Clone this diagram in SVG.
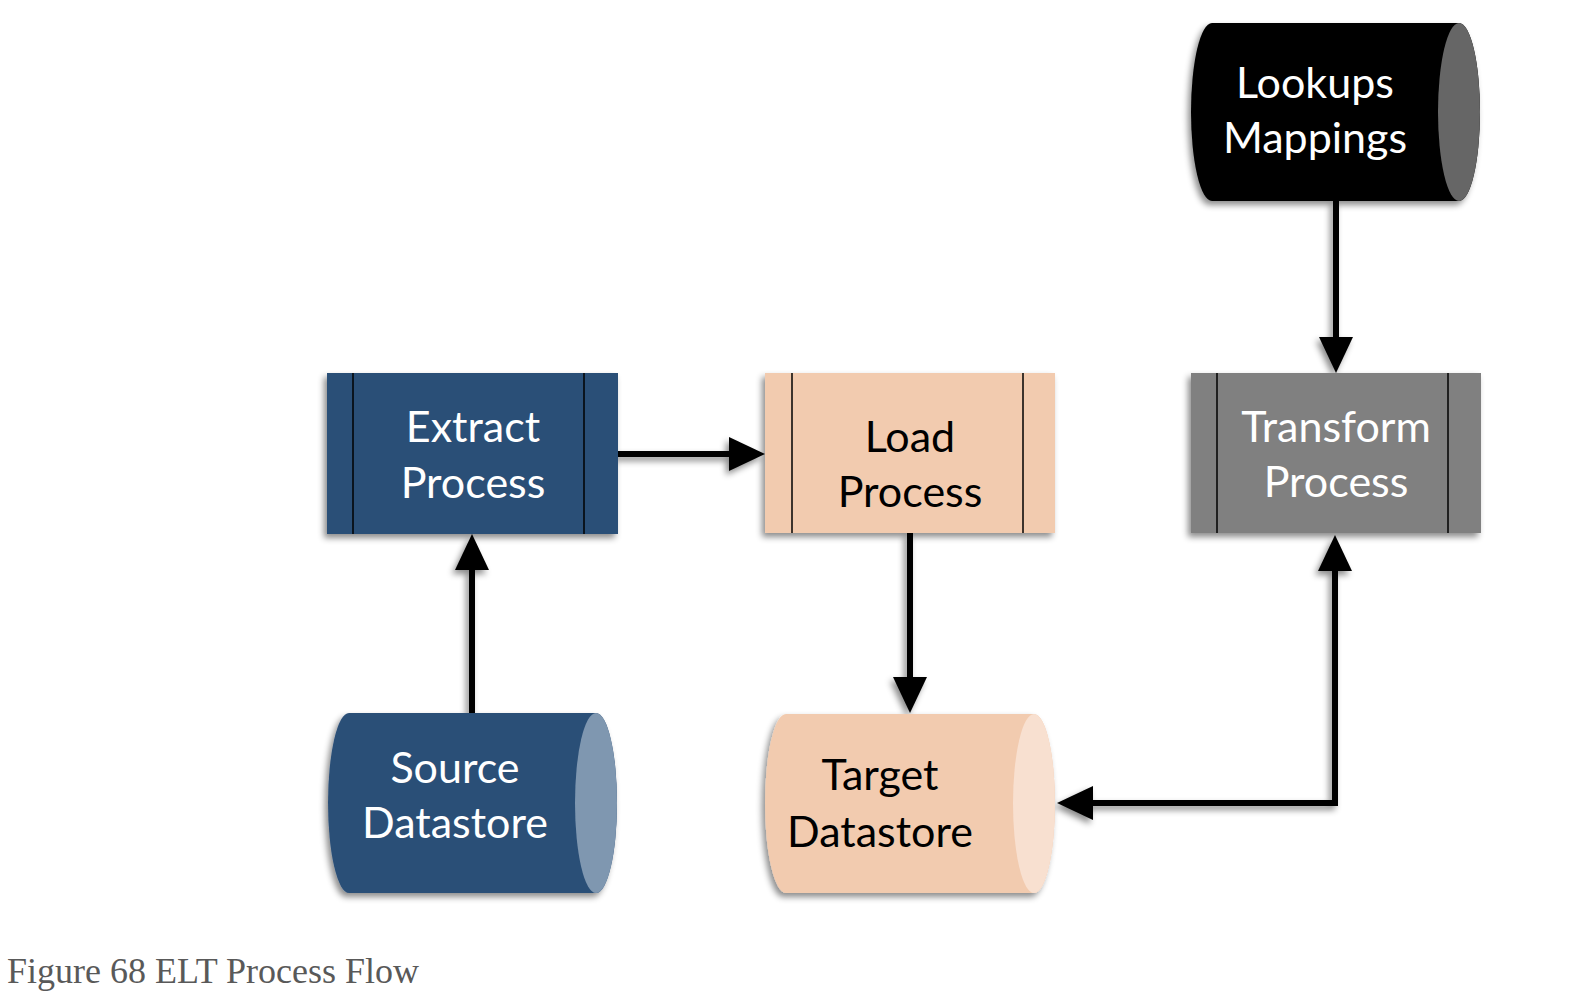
<svg xmlns="http://www.w3.org/2000/svg" width="1588" height="1000" viewBox="0 0 1588 1000">
<defs>
<filter id="sh" x="-20%" y="-20%" width="140%" height="140%">
<feDropShadow dx="-3" dy="4" stdDeviation="3" flood-color="#000" flood-opacity="0.45"/>
</filter>
<marker id="ah" markerUnits="userSpaceOnUse" markerWidth="36" markerHeight="34" refX="26" refY="17" orient="auto-start-reverse">
<path d="M0,0 L36,17 L0,34 Z" fill="#000"/>
</marker>
</defs>
<style>
.lbl{font-family:Lato,"Open Sans","Liberation Sans",sans-serif;font-size:43px;text-anchor:middle}
.w{fill:#fff}
.k{fill:#000}
.div{stroke:#000;stroke-width:1.5}
.con{fill:none;stroke:#000;stroke-width:6;stroke-linejoin:miter}
.cap{font-family:"Liberation Serif","Times New Roman",serif;font-size:36px;fill:#595959}
</style>
<rect width="1588" height="1000" fill="#fff"/>

<g id="connectors" filter="url(#sh)">
<path class="con" d="M472,713 L472,544" marker-end="url(#ah)"/>
<path class="con" d="M618,454 L755,454" marker-end="url(#ah)"/>
<path class="con" d="M910,533 L910,703" marker-end="url(#ah)"/>
<path class="con" d="M1336,201 L1336,363" marker-end="url(#ah)"/>
<path class="con" d="M1067,803 L1335,803 L1335,545" marker-start="url(#ah)" marker-end="url(#ah)"/>
</g>

<g id="extract">
<rect x="327" y="373" width="291" height="161" fill="#2C4F77" filter="url(#sh)"/>
<line class="div" x1="353" y1="373" x2="353" y2="534"/>
<line class="div" x1="584" y1="373" x2="584" y2="534"/>
<text class="lbl w" x="473" y="442">Extract</text>
<text class="lbl w" x="473" y="498">Process</text>
</g>

<g id="load">
<rect x="765" y="373" width="290" height="160" fill="#F2CBAF" filter="url(#sh)"/>
<line class="div" x1="792" y1="373" x2="792" y2="533"/>
<line class="div" x1="1023" y1="373" x2="1023" y2="533"/>
<text class="lbl k" x="910" y="452">Load</text>
<text class="lbl k" x="910" y="507">Process</text>
</g>

<g id="transform">
<rect x="1191" y="373" width="290" height="160" fill="#808080" filter="url(#sh)"/>
<line class="div" x1="1217" y1="373" x2="1217" y2="533"/>
<line class="div" x1="1448" y1="373" x2="1448" y2="533"/>
<text class="lbl w" x="1336" y="442">Transform</text>
<text class="lbl w" x="1336" y="497">Process</text>
</g>

<g id="lookups">
<path d="M1212,23 L1459,23 A21,89 0 0 1 1459,201 L1212,201 A21,89 0 0 1 1212,23 Z" fill="#000" filter="url(#sh)"/>
<ellipse cx="1459" cy="112" rx="21" ry="89" fill="#666"/>
<text class="lbl w" x="1315" y="98">Lookups</text>
<text class="lbl w" x="1315" y="153">Mappings</text>
</g>

<g id="source">
<path d="M349,713 L596,713 A21,90 0 0 1 596,893 L349,893 A21,90 0 0 1 349,713 Z" fill="#2C4F77" filter="url(#sh)"/>
<ellipse cx="596" cy="803" rx="21" ry="90" fill="#7F97B0"/>
<text class="lbl w" x="455" y="783">Source</text>
<text class="lbl w" x="455" y="838">Datastore</text>
</g>

<g id="target">
<path d="M786,714 L1034,714 A21,89.5 0 0 1 1034,893 L786,893 A21,89.5 0 0 1 786,714 Z" fill="#F2CBAF" filter="url(#sh)"/>
<ellipse cx="1034" cy="803.5" rx="21" ry="89.5" fill="#F8E0D0"/>
<text class="lbl k" x="880" y="790">Target</text>
<text class="lbl k" x="880" y="847">Datastore</text>
</g>

<text class="cap" x="7" y="983">Figure 68 ELT Process Flow</text>
</svg>
